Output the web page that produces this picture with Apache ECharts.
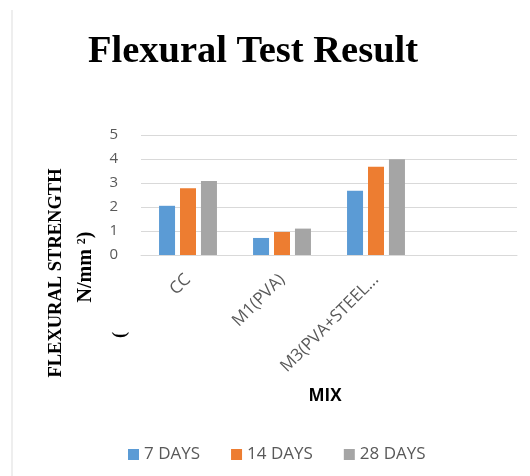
<!DOCTYPE html>
<html>
<head>
<meta charset="utf-8">
<script src="https://cdn.jsdelivr.net/npm/echarts@6/dist/echarts.min.js"></script>
<style>
  html, body { margin: 0; padding: 0; background: #ffffff; }
  #chart { width: 530px; height: 476px; }
</style>
</head>
<body>
<div id="chart"></div>
<script>
// chart data
var mixes = ['CC', 'M1(PVA)', 'M3(PVA+STEEL FIBRE)', ''];
var days7 = [2.05, 0.71, 2.68, null];
var days14 = [2.78, 0.96, 3.68, null];
var days28 = [3.08, 1.10, 3.99, null];
var seriesNames = ['7 DAYS', '14 DAYS', '28 DAYS'];
var yTicks = [0, 1, 2, 3, 4, 5];

var chartDom = document.getElementById('chart');
var myChart = echarts.init(chartDom);

var labelFont = '"Open Sans", Lato, sans-serif';
var serifFont = '"Liberation Serif", "DejaVu Serif", serif';

var option = {
    animation: false,
    color: ['#5b9bd5', '#ed7d31', '#a5a5a5'],
    title: {
        text: 'Flexural Test Result',
        left: 83,
        top: 28,
        textStyle: {
            fontFamily: serifFont,
            fontWeight: 'bold',
            fontSize: 38.5,
            color: '#000000'
        }
    },
    legend: {
        data: seriesNames,
        top: 441,
        left: 123,
        itemWidth: 11,
        itemHeight: 11,
        itemGap: 31,
        icon: 'rect',
        textStyle: {
            fontFamily: labelFont,
            fontSize: 17,
            color: '#595959'
        }
    },
    grid: {
        left: 141,
        right: 13,
        top: 135,
        bottom: 221
    },
    xAxis: {
        type: 'category',
        data: mixes,
        name: 'MIX',
        nameLocation: 'middle',
        nameGap: 133,
        nameTextStyle: {
            fontFamily: labelFont,
            fontWeight: 'bold',
            fontSize: 17,
            color: '#000000',
            padding: [0, 8, 0, 0]
        },
        axisLine: { lineStyle: { color: '#d9d9d9' } },
        axisTick: { show: false },
        axisLabel: {
            rotate: 45,
            interval: 0,
            margin: 22,
            fontFamily: labelFont,
            fontSize: 17,
            color: '#595959',
            formatter: function (v) {
                return v.length > 12 ? v.slice(0, 12) + '...' : v;
            }
        }
    },
    yAxis: {
        type: 'value',
        min: yTicks[0],
        max: yTicks[yTicks.length - 1],
        interval: 1,
        axisLine: { show: false },
        axisTick: { show: false },
        splitLine: { lineStyle: { color: '#d9d9d9' } },
        axisLabel: {
            margin: 23,
            fontFamily: labelFont,
            fontSize: 15,
            color: '#595959'
        }
    },
    graphic: [
        {
            type: 'line',
            shape: { x1: 12, y1: 10, x2: 12, y2: 476 },
            style: { stroke: '#dddddd', lineWidth: 1 }
        },
        {
            type: 'text',
            x: 56,
            y: 273,
            rotation: Math.PI / 2,
            style: {
                text: 'FLEXURAL STRENGTH',
                font: 'bold 18.5px ' + serifFont,
                fill: '#000000',
                align: 'center',
                verticalAlign: 'middle'
            }
        },
        {
            type: 'text',
            x: 86,
            y: 267,
            rotation: Math.PI / 2,
            style: {
                text: 'N/mm {s|2})',
                font: 'bold 20px ' + serifFont,
                fill: '#000000',
                align: 'center',
                verticalAlign: 'middle',
                rich: {
                    s: { fontSize: 12, fontWeight: 'bold', fontFamily: serifFont, verticalAlign: 'top', padding: [0, 0, 8, 0] }
                }
            }
        },
        {
            type: 'text',
            x: 120,
            y: 335,
            rotation: Math.PI / 2,
            style: {
                text: '(',
                font: 'bold 18px ' + serifFont,
                fill: '#000000',
                align: 'center',
                verticalAlign: 'middle'
            }
        }
    ],
    series: [
        { name: seriesNames[0], type: 'bar', data: days7, barWidth: 16, barGap: '31%', barCategoryGap: '38%' },
        { name: seriesNames[1], type: 'bar', data: days14, barWidth: 16, barGap: '31%', barCategoryGap: '38%' },
        { name: seriesNames[2], type: 'bar', data: days28, barWidth: 16, barGap: '31%', barCategoryGap: '38%' }
    ]
};

myChart.setOption(option);
</script>
</body>
</html>
